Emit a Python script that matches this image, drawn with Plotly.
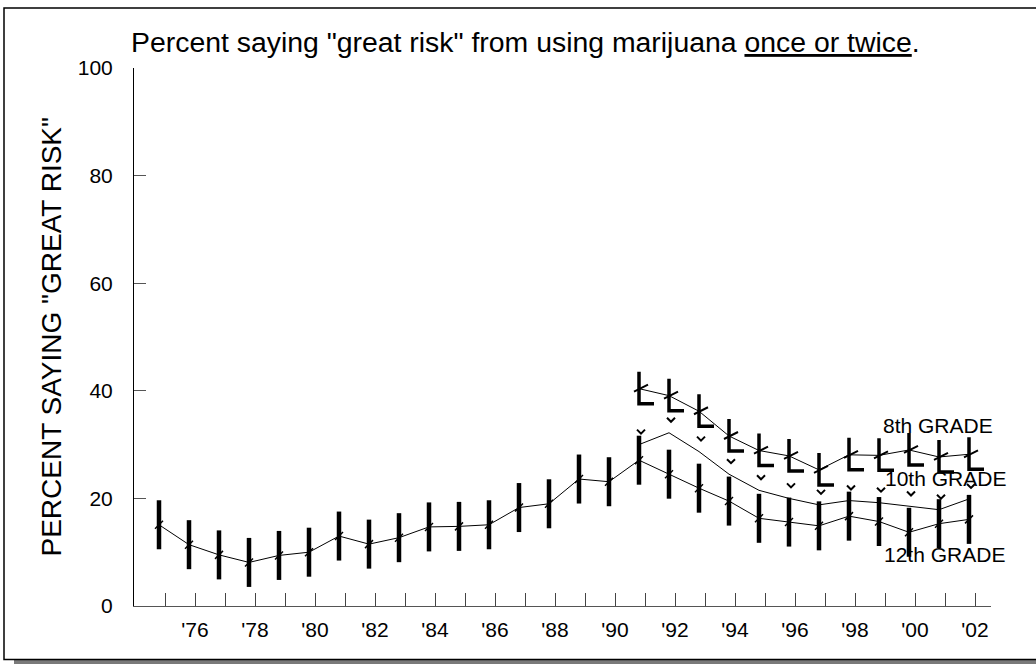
import plotly.graph_objects as go

# ---------------- data ----------------
years_12 = list(range(1975, 2003))
grade12 = [15.1, 11.4, 9.5, 8.1, 9.4, 10.0, 13.0, 11.5, 12.7, 14.7, 14.8, 15.1, 18.3, 19.0,
           23.6, 23.1, 27.1, 24.5, 21.9, 19.5, 16.3, 15.6, 14.9, 16.7, 15.7, 13.7, 15.3, 16.1]
years_810 = list(range(1991, 2003))
grade8 = [40.4, 39.1, 36.2, 31.6, 28.9, 27.9, 25.3, 28.1, 28.0, 29.0, 27.7, 28.2]
grade10 = [30.0, 32.2, 28.7, 24.5, 21.5, 20.0, 18.8, 19.6, 19.2, 18.5, 17.9, 19.9]
tick_years = list(range(1975, 2003))
tick_labels = ["'%02d" % (y % 100) if y % 2 == 0 else "" for y in tick_years]
y_ticks = [0, 20, 40, 60, 80, 100]

FONT = "Arial, Liberation Sans, Helvetica, sans-serif"
W, H = 1036, 664
ML, MR, MT, MB = 134, 45, 68, 58
PW, PH = W - ML - MR, H - MT - MB


def px_x(px):
    return (px - ML) / PW


def px_y(py):
    return (H - MB - py) / PH


fig = go.Figure()

# lines
for yrs, vals in [(years_12, grade12), (years_810, grade8), (years_810, grade10)]:
    fig.add_trace(go.Scatter(x=yrs, y=vals, mode="lines",
                             line=dict(color="black", width=1), showlegend=False,
                             hoverinfo="skip"))

# 12th grade markers: thick bar + small slash
fig.add_trace(go.Scatter(x=years_12, y=grade12, mode="markers", showlegend=False,
                         marker=dict(symbol="line-ns", size=35,
                                     line=dict(color="black", width=4.5)),
                         hoverinfo="skip"))
fig.add_trace(go.Scatter(x=years_12, y=grade12, mode="markers", showlegend=False,
                         marker=dict(symbol="line-ne", size=8,
                                     line=dict(color="black", width=1.5)),
                         hoverinfo="skip"))

shapes = []
# 8th grade "L" glyph markers
for yr, v in zip(years_810, grade8):
    shapes.append(dict(type="path", xref="x", yref="y", xsizemode="pixel", ysizemode="pixel",
                       xanchor=yr, yanchor=v, path="M0,17 L0,-15 L15,-15",
                       line=dict(color="black", width=3.5)))
    shapes.append(dict(type="path", xref="x", yref="y", xsizemode="pixel", ysizemode="pixel",
                       xanchor=yr, yanchor=v, path="M-5,-3 L9,4",
                       line=dict(color="black", width=2)))
# 10th grade caret markers
for yr, v in zip(years_810, grade10):
    shapes.append(dict(type="path", xref="x", yref="y", xsizemode="pixel", ysizemode="pixel",
                       xanchor=yr, yanchor=v, path="M-2,15 L2,11 L6,15",
                       line=dict(color="black", width=2)))

# frame with shadow
shapes.append(dict(type="rect", xref="paper", yref="paper", layer="below",
                   x0=px_x(14), x1=px_x(1045), y0=px_y(664), y1=px_y(660),
                   fillcolor="#7a7a7a", line=dict(width=0)))
shapes.append(dict(type="rect", xref="paper", yref="paper", layer="below",
                   x0=px_x(4), x1=px_x(1045), y0=px_y(659.5), y1=px_y(8),
                   fillcolor="rgba(0,0,0,0)", line=dict(color="black", width=1.5)))

annotations = [
    dict(text='Percent saying "great risk" from using marijuana <u>once or twice</u>.',
         xref="paper", yref="paper", x=px_x(129), y=px_y(42), xanchor="left",
         yanchor="middle", showarrow=False, font=dict(family=FONT, size=28.4, color="black")),
    dict(text='PERCENT SAYING "GREAT RISK"', xref="paper", yref="paper",
         x=px_x(51), y=px_y(337.5), textangle=-90, xanchor="center", yanchor="middle",
         showarrow=False, font=dict(family=FONT, size=28, color="black")),
    dict(text="8th GRADE", xref="paper", yref="paper", x=px_x(938), y=px_y(425),
         xanchor="center", yanchor="middle",
         showarrow=False, font=dict(family=FONT, size=21, color="black")),
    dict(text="10th GRADE", xref="paper", yref="paper", x=px_x(945), y=px_y(478),
         xanchor="center", yanchor="middle",
         showarrow=False, font=dict(family=FONT, size=21, color="black")),
    dict(text="12th GRADE", xref="paper", yref="paper", x=px_x(944.5), y=px_y(554),
         xanchor="center", yanchor="middle",
         showarrow=False, font=dict(family=FONT, size=21, color="black")),
]

fig.update_layout(
    width=W, height=H,
    margin=dict(l=ML, r=MR, t=MT, b=MB, pad=0),
    paper_bgcolor="white", plot_bgcolor="white",
    shapes=shapes, annotations=annotations,
    font=dict(family=FONT, color="black"),
    xaxis=dict(range=[1974.1667, 2002.7333], tickmode="array",
               tickvals=[y + 0.2 for y in tick_years], ticktext=tick_labels,
               ticks="inside", ticklen=13, tickcolor="#444", tickwidth=1,
               showline=True, linecolor="#555", linewidth=1, showgrid=False,
               zeroline=False, tickfont=dict(family=FONT, size=21, color="black"),
               ticklabelstandoff=5),
    yaxis=dict(range=[0, 100], tickmode="array", tickvals=y_ticks,
               ticks="inside", ticklen=12, tickcolor="#555", tickwidth=1,
               showline=True, linecolor="black", linewidth=1, showgrid=False,
               zeroline=False, tickfont=dict(family=FONT, size=21, color="black"),
               ticklabelstandoff=16),
)

fig.write_html("out.html", config={"displayModeBar": False},
               post_script="document.body.style.margin='0';document.body.style.overflow='hidden';")
